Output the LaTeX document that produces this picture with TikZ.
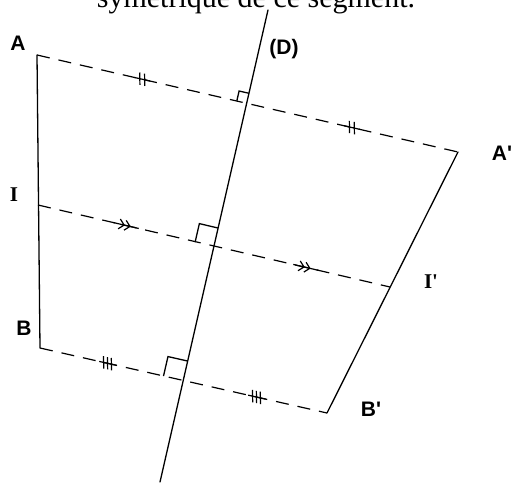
\documentclass[tikz,border=0pt]{standalone}
\usepackage{fontspec}
\newfontfamily\labsans{Liberation Sans}
\newfontfamily\labserif{Liberation Serif}
\usetikzlibrary{calc,decorations.markings}
\tikzset{
  solidline/.style={line width=1.3pt, line cap=round},
  dashline/.style={line width=1.2pt, dash pattern=on 13pt off 9pt},
  sq/.style={line width=1.3pt},
  lbl/.style={font=\labsans\bfseries\fontsize{21}{24}\selectfont, inner sep=0pt},
  lblserif/.style={font=\labserif\bfseries\fontsize{21}{24}\selectfont, inner sep=0pt},
  twoticks/.style={postaction={decorate, decoration={markings,
     mark=at position #1 with {\draw[line width=1.2pt,solid] (-8,0)--(8,0) (-4,-6)--(-1,6) (1,-6)--(4,6);}}}},
  threeticks/.style={postaction={decorate, decoration={markings,
     mark=at position #1 with {\draw[line width=1.2pt,solid] (-9,0)--(9,0) (-6,-6)--(-3,6) (-2,-6)--(1,6) (2,-6)--(5,6);}}}},
  chevrons/.style={postaction={decorate, decoration={markings,
     mark=at position #1 with {\draw[line width=1.2pt,solid] (-14,0)--(12,0) (-8,-5)--(-3,0)--(-8,5) (-2,-5)--(3,0)--(-2,5);}}}}
}
\begin{document}
\begin{tikzpicture}[x=1pt,y=-1pt]
\useasboundingbox (0,0) rectangle (514,487);
% points
\coordinate (A) at (37,55);
\coordinate (B) at (40,348);
\coordinate (I) at (38,205);
\coordinate (A2) at (458,152);
\coordinate (B2) at (327,413);
\coordinate (I2) at (390,287);
\coordinate (Dt) at (268,10);
\coordinate (Db) at (160,482);
\coordinate (H1) at (246.6,103);
\coordinate (H2) at (213.6,246.5);
\coordinate (H3) at (183,380.5);
% top text (cut off at the top edge, as in the reference)
\node[font=\labserif\fontsize{30}{36}\selectfont, anchor=base, inner sep=0pt] (title) at (256,8) {symétrique de ce segment.};
% segments
\draw[solidline] (A) -- (B);
\draw[solidline] (A2) -- (B2);
\draw[solidline] (Dt) -- (Db);
% dashed perpendiculars
\draw[dashline] (A) -- (A2);
\path[twoticks=0.25] (A) -- (A2);
\path[twoticks=0.748] (A) -- (A2);
\draw[dashline] (I) -- (I2);
\path[chevrons=0.253] (I) -- (I2);
\path[chevrons=0.764] (I) -- (I2);
\draw[dashline] (B) -- (B2);
\path[threeticks=0.237] (B) -- (B2);
\path[threeticks=0.756] (B) -- (B2);
% right angle marks
\foreach \h/\p/\s in {H1/A/10, H2/I/19, H3/B/20}{
  \coordinate (u) at ($(\h)!\s pt!(Dt)$);
  \coordinate (v) at ($(\h)!\s pt!(\p)$);
  \draw[sq] (u) -- ($(u)+(v)-(\h)$) -- (v);
}
% labels
\node[lbl] (lA) at (18,43) {A};
\node[lbl] (lD) at (284,49) {(D)};
\node[lbl] (lA2) at (502,153) {A'};
\node[lbl] (lB) at (24,328) {B};
\node[lbl] (lB2) at (371,409) {B'};
\node[lblserif] (lI) at (14,195) {I};
\node[lblserif] (lI2) at (431,282) {I'};
\end{tikzpicture}
\end{document}
